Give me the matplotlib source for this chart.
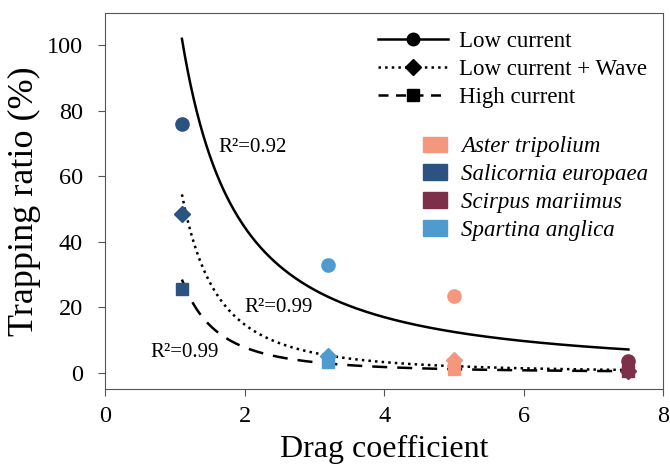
import numpy as np
import matplotlib
matplotlib.use("Agg")
import matplotlib.pyplot as plt
from matplotlib.lines import Line2D
from matplotlib.patches import Patch

plt.rcParams['font.family'] = ['Liberation Serif', 'DejaVu Serif']

species = ["Aster tripolium", "Salicornia europaea", "Scirpus mariimus", "Spartina anglica"]
colors = ["#F4977C", "#2C5282", "#7E2F4A", "#4E9BD0"]
drag = [5.0, 1.1, 7.5, 3.2]
low_current = [23.5, 76.0, 3.5, 33.0]
low_current_wave = [3.7, 48.5, 0.5, 5.0]
high_current = [1.2, 25.5, 0.35, 3.3]
r2_labels = ["R²=0.92", "R²=0.99", "R²=0.99"]

fig = plt.figure(figsize=(6.7, 4.69), dpi=100)
ax = fig.add_axes([0.157, 0.1706, 0.833, 0.8017])

series = [(low_current, 'o', '-', 9.5), (low_current_wave, 'D', ':', 8), (high_current, 's', (0, (6, 4)), 8.5)]
xs = np.array(drag)
xfit = np.linspace(min(drag), max(drag), 300)
for vals, mk, ls, ms in series:
    ys = np.array(vals)
    b, lna = np.polyfit(np.log(xs), np.log(ys), 1)
    ax.plot(xfit, np.exp(lna) * xfit ** b, color='black', ls=ls, lw=1.8, zorder=2)
    for x, y, c in zip(drag, vals, colors):
        ax.plot([x], [y], marker=mk, color=c, ms=ms, ls='none', zorder=3)

ax.text(1.62, 68.8, r2_labels[0], fontsize=15, va='center', ha='left')
ax.text(2.0, 19.9, r2_labels[1], fontsize=15, va='center', ha='left')
ax.text(0.65, 6.2, r2_labels[2], fontsize=15, va='center', ha='left')

ax.set_xlim(0, 8)
ax.set_ylim(-5, 109.8)
ax.set_xticks([0, 2, 4, 6, 8])
ax.set_yticks([0, 20, 40, 60, 80, 100])
ax.tick_params(direction='out', labelsize=17.5, length=5, color='#555555')
ax.tick_params(axis='y', pad=11)
ax.tick_params(axis='x', pad=7)
for s in ax.spines.values():
    s.set_color('#555555')
ax.set_xlabel("Drag coefficient", fontsize=23, labelpad=6)
ax.set_ylabel("Trapping ratio (%)", fontsize=26, labelpad=4)

h1 = [Line2D([], [], color='black', ls='-', marker='o', ms=9, lw=1.8),
      Line2D([], [], color='black', ls=':', marker='D', ms=8, lw=1.8),
      Line2D([], [], color='black', ls=(0, (4, 3)), marker='s', ms=9, lw=1.8)]
leg1 = ax.legend(h1, ["Low current", "Low current + Wave", "High current"], loc='upper left',
                 bbox_to_anchor=(0.489, 0.952), frameon=False, fontsize=16.5, handlelength=3.05,
                 labelspacing=0.3, handletextpad=0.5, borderpad=0, borderaxespad=0)
ax.add_artist(leg1)
h2 = [Patch(facecolor=c, edgecolor=c) for c in colors]
leg2 = ax.legend(h2, species, loc='upper left', bbox_to_anchor=(0.570, 0.672), frameon=False,
                 prop={'style': 'italic', 'size': 16.5}, labelspacing=0.3,
                 handlelength=1.05, handleheight=0.65, handletextpad=0.6,
                 borderpad=0, borderaxespad=0)

fig.savefig("out.png", dpi=100)
